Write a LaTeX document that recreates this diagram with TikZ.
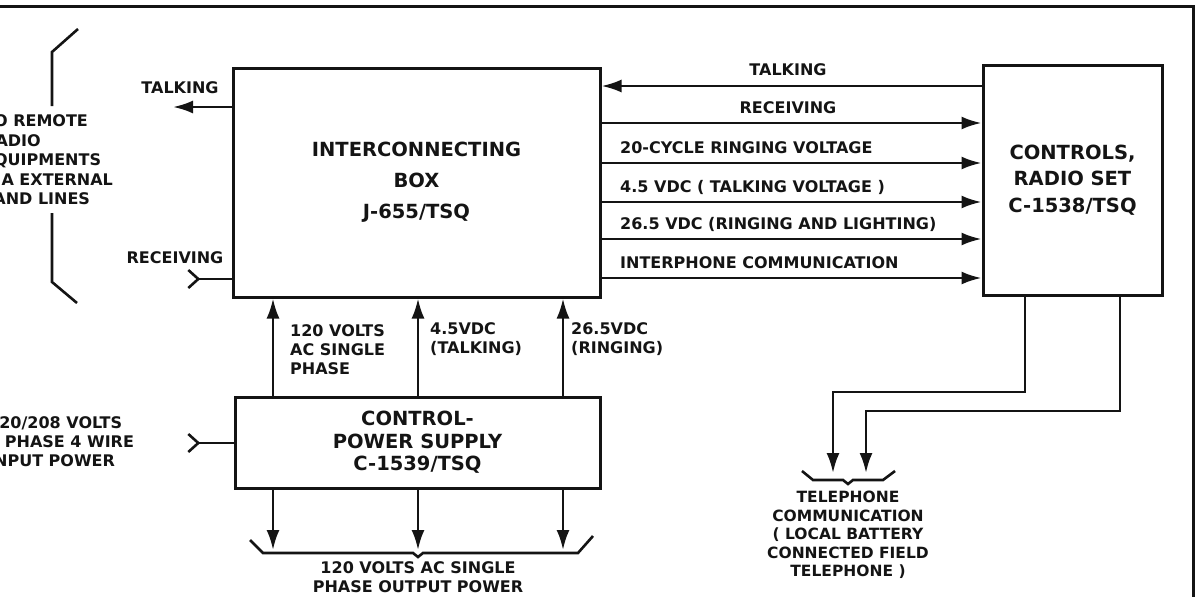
\documentclass[tikz,border=0pt]{standalone}
\usepackage{fontspec}
\setmainfont{DejaVu Sans}
\usepackage{tikz}
\usetikzlibrary{positioning, arrows.meta}
\definecolor{ink}{HTML}{141414}

\tikzset{
  unit/.style={draw=ink, line width=3pt, align=center, inner sep=0pt, text=ink,
    font=\fontsize{19.5}{31}\selectfont\bfseries},
  wire/.style={draw=ink, line width=2.6pt},
  fwd/.style={wire, -{Latex[length=20pt,width=13pt]}},
  feed/.style={wire, {Straight Barb[reversed,length=10pt,width=18pt]}-},
  lbl/.style={text=ink, inner sep=0pt, font=\fontsize{16}{19}\selectfont\bfseries},
}

\begin{document}
\begin{tikzpicture}[x=1pt, y=-1pt]
  \useasboundingbox (0,0) rectangle (1203,597);
  \clip (0,0) rectangle (1203,597);
  % outer frame
  \draw[wire, line width=3pt] (0,6) -- (1193,6) -- (1193,597);

  % the three units
  \node[unit, minimum width=367pt, minimum height=229pt] (ibox) at (416.5,182.5)
    {INTERCONNECTING\\BOX\\J-655/TSQ};
  \node[unit, minimum width=179pt, minimum height=230pt,
    font=\fontsize{19.5}{26.5}\selectfont\bfseries] (cbox) at (1072.5,180)
    {CONTROLS,\\RADIO SET\\C-1538/TSQ};
  \node[unit, minimum width=365pt, minimum height=91pt,
    font=\fontsize{19.5}{22.5}\selectfont\bfseries] (sbox) at (417.5,442.5)
    {CONTROL-\\POWER SUPPLY\\C-1539/TSQ};

  % box to controls
  \draw[fwd] (cbox.west |- 0,86) -- (ibox.east |- 0,86);
  \node[lbl] (rtalk) at (788,70) {TALKING};
  \foreach \y in {123,163,202,239,278}
    \draw[fwd] (ibox.east |- 0,\y) -- (cbox.west |- 0,\y);
  \node[lbl] (rrecv) at (788,108) {RECEIVING};
  \node[lbl, anchor=west] (ring) at (620,148) {20-CYCLE RINGING VOLTAGE};
  \node[lbl, anchor=west] (talkv) at (620,187) {4.5 VDC ( TALKING VOLTAGE )};
  \node[lbl, anchor=west] (ringv) at (620,224) {26.5 VDC (RINGING AND LIGHTING)};
  \node[lbl, anchor=west] (iphone) at (620,263) {INTERPHONE COMMUNICATION};

  % remote equipments side
  \coordinate (talkend) at (173,107);
  \draw[fwd] (ibox.west |- talkend) -- (talkend);
  \node[lbl] (ltalk) at (180,88) {TALKING};
  \coordinate (recvend) at (187,279);
  \draw[feed] (recvend) -- (ibox.west |- recvend);
  \node[lbl] (lrecv) at (175,258) {RECEIVING};
  \draw[wire] (78,29) -- (52,52) -- (52,106);
  \draw[wire] (52,213) -- (52,282) -- (77,303);
  \node[lbl, anchor=west, align=left, font=\fontsize{16}{19.5}\selectfont\bfseries] (remote)
    at (-17,160) {TO REMOTE\\RADIO\\EQUIPMENTS\\VIA EXTERNAL\\LAND LINES};

  % input power
  \coordinate (inend) at (187,443);
  \draw[feed] (inend) -- (sbox.west |- inend);
  \node[lbl, anchor=west, align=left] (inpower) at (-12,442)
    {120/208 VOLTS\\3 PHASE 4 WIRE\\INPUT POWER};

  % supply up and out
  \foreach \x/\c in {273/a, 418/b, 563/c} {
    \coordinate (col\c) at (\x,550);
    \draw[fwd] (sbox.north -| col\c) -- (ibox.south -| col\c);
    \draw[fwd] (sbox.south -| col\c) -- (col\c);
  }
  \node[lbl, anchor=north west, align=left] (acin) at (290,324) {120 VOLTS\\AC SINGLE\\PHASE};
  \node[lbl, anchor=north west, align=left] (dc45) at (430,322) {4.5VDC\\(TALKING)};
  \node[lbl, anchor=north west, align=left] (dc265) at (571,322) {26.5VDC\\(RINGING)};
  \draw[wire] (250,540) -- (263,553) -- (413,553) -- (418,557) -- (423,553)
    -- (578,553) -- (593,536);
  \node[lbl, align=center] (acout) at (418,577) {120 VOLTS AC SINGLE\\PHASE OUTPUT POWER};

  % telephone lines
  \coordinate (dropa) at (1025,392);
  \coordinate (dropb) at (1120,411);
  \coordinate (tela) at (833,473);
  \coordinate (telb) at (866,473);
  \draw[fwd] (cbox.south -| dropa) -- (dropa) -| (tela);
  \draw[fwd] (cbox.south -| dropb) -- (dropb) -| (telb);
  \draw[wire] (802,471) -- (813,480) -- (843,480) -- (848,484) -- (853,480)
    -- (883,480) -- (895,471);
  \node[lbl, align=center, font=\fontsize{15.5}{18.5}\selectfont\bfseries] (teltxt)
    at (848,535) {TELEPHONE\\COMMUNICATION\\( LOCAL BATTERY\\CONNECTED FIELD\\TELEPHONE )};
\end{tikzpicture}
\end{document}
